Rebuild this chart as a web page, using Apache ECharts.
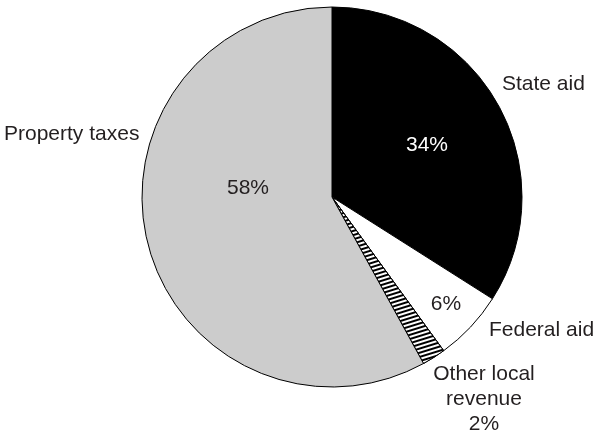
<!DOCTYPE html>
<html>
<head>
<meta charset="utf-8">
<script src="https://cdn.jsdelivr.net/npm/echarts@6/dist/echarts.min.js"></script>
<style>
  html, body { margin: 0; padding: 0; background: #fff; }
  #main { width: 594px; height: 435px; }
</style>
</head>
<body>
<div id="main"></div>
<script>
// revenue sources, percent of total, clockwise from 12 o'clock
var categories = ["State aid", "Federal aid", "Other local revenue", "Property taxes"];
var shares = [34, 6, 2, 58];
var nameLabels = ["State aid", "Federal aid", "Other local\nrevenue\n2%", "Property taxes"];
var pctLabels = ["34%", "6%", "", "58%"];

// where the labels sit in the picture
var nameAnchors = [[502, 84, "left"], [489, 330, "left"], [484, 399, "center"], [4, 134, "left"]];
var pctAnchors = [[427, 145], [446, 304], [0, 0], [248, 188]];

var fills = ["#000000", "#ffffff", "#ffffff", "#cccccc"];
var textColor = "#231f20";

var chart = echarts.init(document.getElementById("main"));

var sliceData = [];
var nameData = [];
for (var i = 0; i < categories.length; i++) {
  var item = {
    name: categories[i],
    value: shares[i],
    itemStyle: { color: fills[i] },
    label: { color: i === 0 ? "#ffffff" : textColor }
  };
  if (i === 2) {
    item.itemStyle.decal = {
      symbol: "rect",
      symbolSize: 1,
      dashArrayX: [1, 0],
      dashArrayY: [1.7, 1.6],
      rotation: -0.3,
      color: "#000000",
      backgroundColor: "#ffffff"
    };
  }
  sliceData.push(item);
  nameData.push({ name: categories[i], value: shares[i] });
}

chart.setOption({
  backgroundColor: "#ffffff",
  animation: false,
  series: [
    {
      type: "pie",
      center: [332, 197],
      radius: 190,
      startAngle: 90,
      clockwise: true,
      silent: true,
      itemStyle: { borderColor: "#000000", borderWidth: 1 },
      label: {
        show: true,
        position: "inside",
        fontFamily: "Liberation Sans, Arial, sans-serif",
        fontSize: 21,
        formatter: function (p) { return pctLabels[p.dataIndex]; }
      },
      labelLine: { show: false },
      labelLayout: function (p) {
        var a = pctAnchors[p.dataIndex];
        return { x: a[0], y: a[1], align: "center", verticalAlign: "middle" };
      },
      data: sliceData
    },
    {
      type: "pie",
      center: [332, 197],
      radius: 190,
      startAngle: 90,
      clockwise: true,
      silent: true,
      itemStyle: { color: "transparent", borderWidth: 0 },
      label: {
        show: true,
        position: "outside",
        overflow: "none",
        width: 200,
        color: textColor,
        fontFamily: "Liberation Sans, Arial, sans-serif",
        fontSize: 21,
        lineHeight: 25,
        formatter: function (p) { return nameLabels[p.dataIndex]; }
      },
      labelLine: { show: false },
      labelLayout: function (p) {
        var a = nameAnchors[p.dataIndex];
        return { x: a[0], y: a[1], align: a[2], verticalAlign: "middle" };
      },
      data: nameData
    }
  ]
});
</script>
</body>
</html>
